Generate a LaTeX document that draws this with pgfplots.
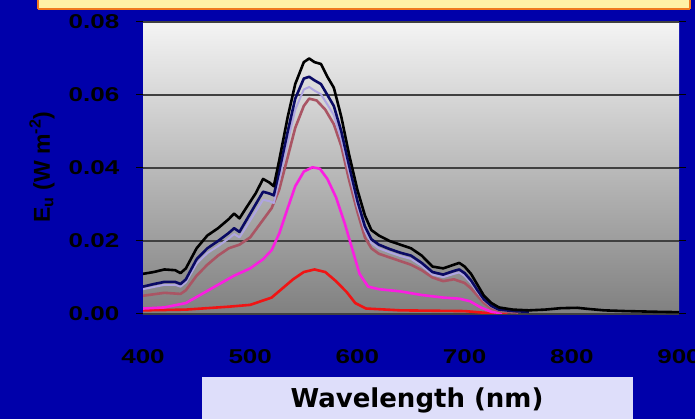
\documentclass[border=0pt]{standalone}
\usepackage{fontspec}
\setmainfont{Liberation Sans}
\newfontfamily\dejavu{DejaVu Sans}
\usepackage{graphicx}
\usepackage{pgfplots}
\pgfplotsset{compat=1.18}
\definecolor{bgblue}{RGB}{0,0,170}
\definecolor{bannerfill}{RGB}{255,240,165}
\definecolor{bannerline}{RGB}{240,120,30}
\definecolor{lblbox}{RGB}{222,222,250}
\definecolor{navyc}{RGB}{10,10,100}
\definecolor{lavc}{RGB}{175,165,225}
\definecolor{rosyc}{RGB}{170,85,100}
\definecolor{magc}{RGB}{250,30,225}
\definecolor{redc}{RGB}{240,20,20}
\begin{document}
\begin{tikzpicture}
\clip (0,0) rectangle (695pt,419pt);
\fill[bgblue] (0,0) rectangle (695pt,419pt);
\fill[bannerfill] (38pt,410pt) rectangle (690pt,425pt);
\draw[bannerline,line width=2.5pt] (38pt,410pt) -- (690pt,410pt);
\draw[bannerline,line width=2.5pt] (38pt,410pt) -- (38pt,425pt);
\draw[bannerline,line width=2.5pt] (690pt,410pt) -- (690pt,425pt);
\fill[lblbox] (202pt,0pt) rectangle (633pt,42pt);
\node[font=\dejavu\bfseries\fontsize{26}{30}\selectfont] at (417pt,19pt) {Wavelength (nm)};
\node[rotate=90,font=\bfseries\fontsize{23}{26}\selectfont] at (42pt,252pt) {E\textsubscript{u} (W m\textsuperscript{-2})};
\begin{axis}[
  at={(143pt,105pt)}, anchor=south west,
  width=536pt, height=292pt, scale only axis,
  xmin=400, xmax=900, ymin=0, ymax=0.08,
  axis background/.style={shade, top color={rgb,255:red,244;green,244;blue,244}, bottom color={rgb,255:red,128;green,128;blue,128}},
  axis line style={draw=none},
  xtick={400,500,600,700,800,900},
  ytick={0,0.02,0.04,0.06,0.08},
  xtick style={draw=none},
  ytick style={black, line width=1pt},
  tick align=outside, major tick length=7pt,
  ymajorgrids, grid style={black!75, line width=1.2pt},
  /pgf/number format/assume math mode=true,
  yticklabel={\scalebox{1.3}[1]{\pgfmathprintnumber[fixed,fixed zerofill,precision=2]{\tick}}},
  xticklabel={\scalebox{1.3}[1]{\pgfmathprintnumber{\tick}}},
  scaled y ticks=false,
  ticklabel style={font=\bfseries\fontsize{20}{24}\selectfont, text=black},
  xticklabel style={anchor=center, yshift=-36pt},
  yticklabel style={anchor=center, xshift=-42pt},
  clip=true,
  every axis plot/.append style={line width=2.6pt, line join=round},
]
\addplot[redc] coordinates {
(400,0.0010)(440,0.0012)(480,0.0020)(500,0.0025)(520,0.0045)(530,0.0070)(540,0.0095)(550,0.0115)(560,0.0122)(570,0.0115)(580,0.0090)(590,0.0060)(598,0.0030)(608,0.0015)(640,0.0010)(700,0.0008)(720,0.0003)(740,0.0001)
};
\addplot[magc] coordinates {
(400,0.0015)(420,0.0018)(440,0.0030)(455,0.0055)(470,0.0080)(485,0.0105)(500,0.0125)(512,0.0150)(520,0.0175)(527,0.0220)(535,0.0290)(542,0.0350)(550,0.0390)(558,0.0402)(565,0.0398)(572,0.0370)(580,0.0320)(588,0.0250)(595,0.0180)(602,0.0110)(610,0.0075)(620,0.0068)(640,0.0062)(660,0.0052)(680,0.0045)(695,0.0042)(705,0.0035)(715,0.0018)(725,0.0006)(735,0.0002)
};
\addplot[rosyc] coordinates {
(400,0.0050)(420,0.0058)(435,0.0055)(440,0.0065)(450,0.0105)(460,0.0135)(470,0.0160)(480,0.0180)(490,0.0190)(500,0.0210)(510,0.0250)(520,0.0290)(527,0.0340)(535,0.0430)(542,0.0510)(550,0.0570)(555,0.0590)(562,0.0585)(570,0.0560)(578,0.0520)(585,0.0460)(592,0.0370)(600,0.0280)(607,0.0210)(613,0.0180)(620,0.0165)(630,0.0155)(640,0.0145)(650,0.0135)(660,0.0120)(670,0.0100)(680,0.0090)(690,0.0095)(700,0.0085)(706,0.0070)(712,0.0050)(718,0.0030)(725,0.0015)(735,0.0006)(750,0.0004)
};
\addplot[lavc, line width=2pt] coordinates {
(400,0.0068)(410,0.0074)(420,0.0080)(430,0.0080)(435,0.0075)(440,0.0087)(450,0.0138)(460,0.0167)(470,0.0186)(480,0.0207)(485,0.0219)(490,0.0210)(495,0.0233)(505,0.0280)(512,0.0313)(518,0.0309)(522,0.0304)(527,0.0366)(535,0.0472)(542,0.0560)(550,0.0615)(555,0.0622)(560,0.0612)(566,0.0602)(572,0.0574)(578,0.0545)(585,0.0478)(592,0.0390)(600,0.0295)(607,0.0228)(613,0.0195)(620,0.0180)(630,0.0169)(640,0.0159)(650,0.0151)(660,0.0132)(670,0.0108)(680,0.0101)(690,0.0110)(695,0.0114)(700,0.0104)(706,0.0085)(712,0.0060)(718,0.0037)(725,0.0020)(732,0.0011)(745,0.0007)
};
\addplot[navyc] coordinates {
(400,0.0075)(410,0.0082)(420,0.0088)(430,0.0088)(435,0.0082)(440,0.0095)(450,0.0150)(460,0.0180)(470,0.0200)(480,0.0222)(485,0.0235)(490,0.0225)(495,0.0250)(505,0.0300)(512,0.0335)(518,0.0330)(522,0.0325)(527,0.0390)(535,0.0500)(542,0.0590)(550,0.0645)(555,0.0650)(560,0.0640)(566,0.0630)(572,0.0600)(578,0.0570)(585,0.0500)(592,0.0410)(600,0.0310)(607,0.0240)(613,0.0205)(620,0.0190)(630,0.0178)(640,0.0168)(650,0.0160)(660,0.0140)(670,0.0115)(680,0.0108)(690,0.0118)(695,0.0122)(700,0.0112)(706,0.0092)(712,0.0065)(718,0.0040)(725,0.0022)(732,0.0012)(745,0.0008)(760,0.0006)
};
\addplot[black] coordinates {
(400,0.0110)(410,0.0115)(420,0.0122)(430,0.0120)(435,0.0112)(440,0.0125)(450,0.0180)(460,0.0215)(470,0.0235)(480,0.0260)(485,0.0275)(490,0.0262)(495,0.0285)(505,0.0330)(512,0.0370)(518,0.0360)(522,0.0350)(527,0.0420)(535,0.0540)(542,0.0630)(550,0.0690)(555,0.0700)(560,0.0690)(566,0.0685)(572,0.0650)(578,0.0620)(585,0.0540)(592,0.0440)(600,0.0340)(607,0.0270)(613,0.0230)(620,0.0215)(630,0.0200)(640,0.0190)(650,0.0180)(660,0.0160)(670,0.0130)(680,0.0125)(690,0.0135)(695,0.0140)(700,0.0130)(706,0.0110)(712,0.0080)(718,0.0050)(725,0.0030)(732,0.0018)(745,0.0012)(760,0.0010)(775,0.0012)(790,0.0016)(805,0.0017)(815,0.0014)(830,0.0010)(850,0.0008)(880,0.0006)(900,0.0005)
};
\end{axis}
\end{tikzpicture}
\end{document}
